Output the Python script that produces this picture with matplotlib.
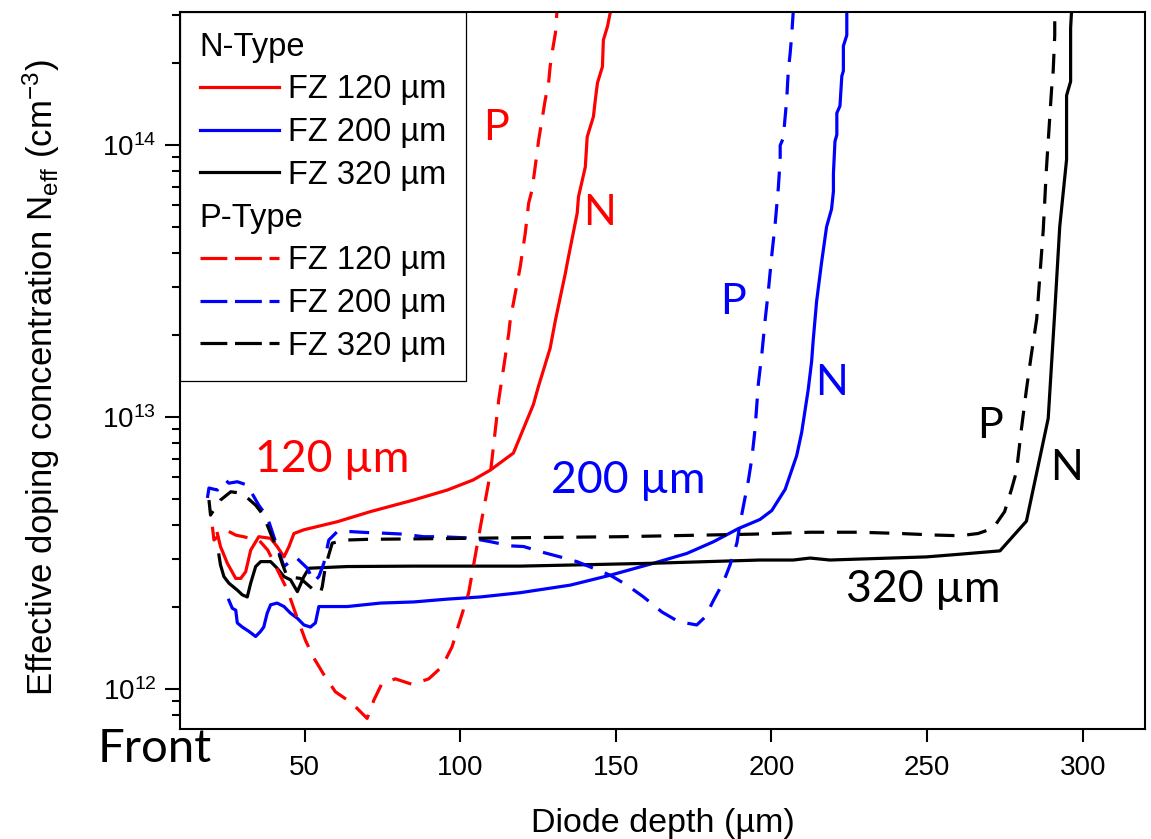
import matplotlib
matplotlib.use("Agg")
import matplotlib.pyplot as plt
from matplotlib.lines import Line2D

plt.rcParams["font.family"] = ["Liberation Sans", "DejaVu Sans"]
plt.rcParams["mathtext.default"] = "regular"

# ---- data (depth in um, Neff in cm^-3) ----
red_n_x = [22.0, 23.0, 25.2, 27.9, 29.5, 31.1, 32.7, 35.3, 39.1, 41.2, 43.4, 45.0, 46.6, 49.8,
           60.5, 71.2, 85.0, 95.9, 104.2, 109.7, 117.1, 123.5, 125.1, 128.9, 130.6, 133.8,
           134.4, 137.6, 138.0, 140.2, 140.8, 142.8, 143.4, 144.1, 145.7, 146.0, 147.3, 148.3]
red_n_y = [3.73e12, 3.34e12, 2.90e12, 2.55e12, 2.55e12, 2.70e12, 3.24e12, 3.63e12, 3.58e12,
           3.34e12, 3.06e12, 3.34e12, 3.73e12, 3.85e12, 4.12e12, 4.49e12, 4.95e12, 5.39e12,
           5.87e12, 6.38e12, 7.37e12, 1.11e13, 1.29e13, 1.79e13, 2.27e13, 3.38e13, 3.68e13,
           5.62e13, 6.44e13, 8.30e13, 1.07e14, 1.27e14, 1.46e14, 1.69e14, 1.94e14, 2.43e14,
           2.72e14, 3.10e14]

red_p_x = [20.4, 20.9, 24.6, 27.9, 35.3, 38.2, 41.3, 44.5, 47.1, 50.3, 53.0, 56.2, 59.9, 65.3,
           70.1, 72.3, 74.9, 79.2, 84.6, 89.9, 94.2, 97.4, 99.0, 102.7, 106.5, 109.7, 110.8,
           112.4, 114.0, 115.6, 116.1, 117.7, 119.3, 120.9, 122.0, 123.1, 124.1, 125.2, 126.3,
           127.3, 128.4, 128.9, 129.5, 130.6, 131.1]
red_p_y = [3.95e12, 3.53e12, 3.85e12, 3.68e12, 3.53e12, 3.24e12, 2.74e12, 2.31e12, 1.90e12,
           1.51e12, 1.30e12, 1.13e12, 9.77e11, 8.86e11, 7.80e11, 9.12e11, 1.05e12, 1.09e12,
           1.04e12, 1.09e12, 1.21e12, 1.43e12, 1.65e12, 2.25e12, 3.95e12, 6.21e12, 8.00e12,
           1.16e13, 1.53e13, 2.03e13, 2.28e13, 2.85e13, 3.57e13, 4.73e13, 6.11e13, 6.84e13,
           8.32e13, 1.04e14, 1.24e14, 1.46e14, 1.69e14, 1.94e14, 2.17e14, 2.58e14, 3.10e14]

blue_n_x = [25.7, 26.8, 27.9, 28.4, 30.0, 32.1, 34.3, 35.9, 36.9, 38.0, 39.1, 41.2, 43.4, 45.5,
            47.7, 49.8, 51.9, 53.5, 54.6, 58.3, 63.7, 74.4, 85.1, 95.8, 106.5, 119.3, 135.4,
            148.2, 162.1, 172.8, 181.4, 189.4, 196.3, 200.1, 204.4, 208.1, 209.7, 211.8, 212.9,
            213.4, 214.5, 216.1, 217.7, 219.3, 219.9, 219.9, 220.4, 221.0, 221.0, 222.0, 222.6,
            223.1, 223.1, 224.2, 224.2]
blue_n_y = [2.12e12, 1.98e12, 1.95e12, 1.75e12, 1.69e12, 1.63e12, 1.56e12, 1.63e12, 1.69e12,
            1.90e12, 2.04e12, 2.07e12, 2.01e12, 1.90e12, 1.82e12, 1.72e12, 1.69e12, 1.75e12,
            2.01e12, 2.01e12, 2.01e12, 2.07e12, 2.09e12, 2.14e12, 2.18e12, 2.26e12, 2.41e12,
            2.62e12, 2.90e12, 3.15e12, 3.48e12, 3.89e12, 4.20e12, 4.53e12, 5.42e12, 7.21e12,
            8.77e12, 1.26e13, 1.60e13, 1.91e13, 2.66e13, 3.70e13, 5.00e13, 5.81e13, 6.75e13,
            7.84e13, 1.03e14, 1.09e14, 1.31e14, 1.39e14, 1.79e14, 1.87e14, 2.31e14, 2.53e14,
            3.10e14]

blue_p_x = [18.8, 19.3, 22.0, 24.6, 25.7, 28.4, 31.6, 35.3, 38.0, 41.2, 43.4, 47.1, 50.9, 53.0,
            54.6, 56.2, 57.8, 60.5, 64.8, 70.1, 75.4, 81.8, 88.2, 93.6, 103.3, 109.7, 116.1,
            120.4, 125.7, 132.1, 137.5, 142.8, 148.2, 153.6, 158.9, 164.8, 170.1, 176.0, 178.7,
            181.4, 184.6, 186.7, 188.9, 189.9, 192.6, 193.7, 194.7, 195.8, 196.9, 198.0, 199.0,
            200.1, 201.2, 202.2, 202.8, 202.8, 203.8, 204.4, 204.9, 205.4, 206.0, 206.5, 207.0]
blue_p_y = [5.04e12, 5.48e12, 5.39e12, 5.86e12, 5.71e12, 5.78e12, 5.62e12, 4.74e12, 4.30e12,
            3.34e12, 2.82e12, 3.06e12, 2.78e12, 2.48e12, 2.59e12, 2.90e12, 3.53e12, 3.79e12,
            3.79e12, 3.76e12, 3.74e12, 3.71e12, 3.63e12, 3.63e12, 3.59e12, 3.48e12, 3.36e12,
            3.34e12, 3.20e12, 3.06e12, 2.94e12, 2.78e12, 2.62e12, 2.41e12, 2.18e12, 1.92e12,
            1.77e12, 1.72e12, 1.84e12, 2.12e12, 2.48e12, 2.86e12, 3.44e12, 4.06e12, 5.86e12,
            7.05e12, 8.96e12, 1.33e13, 1.70e13, 2.29e13, 2.91e13, 3.93e13, 5.15e13, 6.95e13,
            8.83e13, 9.96e13, 1.06e14, 1.27e14, 1.47e14, 1.87e14, 2.17e14, 2.53e14, 3.10e14]

black_n_x = [22.5, 23.0, 24.1, 25.7, 28.4, 30.0, 31.6, 32.7, 34.3, 35.9, 39.1, 41.2, 43.4, 45.5,
             47.7, 49.8, 51.4, 63.7, 85.1, 119.3, 162.1, 196.3, 207.0, 212.4, 218.8, 249.8,
             260.5, 273.4, 281.9, 288.9, 291.0, 292.6, 294.8, 294.8, 296.1, 296.1, 296.4]
black_n_y = [3.11e12, 2.86e12, 2.59e12, 2.45e12, 2.31e12, 2.22e12, 2.18e12, 2.45e12, 2.82e12,
             2.94e12, 2.94e12, 2.78e12, 2.59e12, 2.52e12, 2.28e12, 2.59e12, 2.78e12, 2.82e12,
             2.83e12, 2.83e12, 2.90e12, 2.98e12, 2.98e12, 3.03e12, 2.98e12, 3.06e12, 3.13e12,
             3.22e12, 4.14e12, 9.88e12, 2.43e13, 5.00e13, 8.83e13, 1.52e14, 1.71e14, 2.69e14,
             3.10e14]

black_p_x = [19.3, 19.8, 23.0, 26.3, 30.0, 34.3, 35.9, 38.0, 39.1, 41.2, 42.8, 44.4, 48.7, 53.0,
             55.1, 55.7, 56.7, 58.9, 63.7, 70.1, 80.8, 102.2, 119.3, 151.4, 194.2, 212.4, 228.4,
             241.3, 253.0, 260.5, 266.4, 271.2, 274.9, 277.1, 278.7, 280.3, 281.9, 283.5, 285.2,
             286.2, 287.3, 288.3, 288.9, 290.0, 290.5, 291.0, 291.0]
black_p_y = [4.95e12, 4.36e12, 4.95e12, 5.31e12, 5.24e12, 4.74e12, 4.49e12, 4.01e12, 3.73e12,
             3.29e12, 2.90e12, 2.59e12, 2.55e12, 2.31e12, 2.25e12, 2.38e12, 2.82e12, 3.44e12,
             3.53e12, 3.55e12, 3.56e12, 3.58e12, 3.60e12, 3.63e12, 3.71e12, 3.77e12, 3.77e12,
             3.73e12, 3.68e12, 3.66e12, 3.73e12, 3.90e12, 4.49e12, 5.42e12, 6.30e12, 9.04e12,
             1.26e13, 1.70e13, 2.29e13, 3.28e13, 4.85e13, 8.07e13, 1.03e14, 1.61e14, 1.87e14,
             2.53e14, 3.10e14]

legend_labels = ["N-Type", "FZ 120 \u00b5m", "FZ 200 \u00b5m", "FZ 320 \u00b5m",
                 "P-Type", "FZ 120 \u00b5m", "FZ 200 \u00b5m", "FZ 320 \u00b5m"]
x_ticks = [50, 100, 150, 200, 250, 300]
y_ticks = [1e12, 1e13, 1e14]
y_tick_labels = ["$10^{12}$", "$10^{13}$", "$10^{14}$"]

RED, BLUE, BLACK = "#ff0000", "#0000ff", "#000000"
LW = 2.3
DASH = (6.2, 4.0)
LEG_DASH = (8.4, 2.4)

fig = plt.figure(figsize=(11.51, 8.39), dpi=100)
ax = fig.add_axes([0.1564, 0.1311, 0.8384, 0.8546])

ax.plot(red_n_x, red_n_y, color=RED, lw=LW)
ax.plot(blue_n_x, blue_n_y, color=BLUE, lw=LW)
ax.plot(black_n_x, black_n_y, color=BLACK, lw=LW)
ax.plot(red_p_x, red_p_y, color=RED, lw=LW, dashes=DASH)
ax.plot(blue_p_x, blue_p_y, color=BLUE, lw=LW, dashes=DASH)
ax.plot(black_p_x, black_p_y, color=BLACK, lw=LW, dashes=DASH)

ax.set_yscale("log")
ax.set_xlim(10, 320)
ax.set_ylim(7.13e11, 3.08e14)

ax.set_xticks(x_ticks)
ax.set_xticklabels([str(t) for t in x_ticks])
ax.set_yticks(y_ticks)
ax.set_yticklabels(y_tick_labels)
ax.tick_params(axis="both", which="major", direction="out", width=1.5,
               top=False, right=False, labelsize=20)
ax.tick_params(axis="x", which="major", length=9.5, pad=9)
ax.tick_params(axis="y", which="major", length=11, pad=6)
ax.tick_params(axis="y", which="minor", direction="out", length=6, width=1.5,
               right=False, labelleft=False)
ax.tick_params(axis="x", which="minor", bottom=False, top=False)
for lab in ax.get_xticklabels() + ax.get_yticklabels():
    lab.set_family(["Liberation Sans Narrow", "Liberation Sans"])
for sp in ax.spines.values():
    sp.set_linewidth(1.5)

ax.set_xlabel("Diode depth (\u00b5m)", fontsize=24.5)
ax.xaxis.set_label_coords(0.5, -0.11)
ax.set_ylabel("Effective doping concentration N$_{eff}$ (cm$^{-3}$)", fontsize=25)
ax.yaxis.set_label_coords(-0.122, 0.49)

# legend with group headers
handles = [
    Line2D([], [], color="none"),
    Line2D([], [], color=RED, lw=LW),
    Line2D([], [], color=BLUE, lw=LW),
    Line2D([], [], color=BLACK, lw=LW),
    Line2D([], [], color="none"),
    Line2D([], [], color=RED, lw=LW, dashes=LEG_DASH),
    Line2D([], [], color=BLUE, lw=LW, dashes=LEG_DASH),
    Line2D([], [], color=BLACK, lw=LW, dashes=LEG_DASH),
]
leg = ax.legend(handles, legend_labels, loc="upper left", borderaxespad=0,
                fontsize=23.5, handlelength=2.42, handletextpad=0.28, labelspacing=0.36,
                borderpad=0.6, fancybox=False, framealpha=1, edgecolor="black")
leg.get_frame().set_linewidth(0.9)
for hpack in leg._legend_handle_box.get_children()[0].get_children():
    draw_area, text_area = hpack.get_children()
    if text_area.get_text().endswith("Type"):
        draw_area.set_width(0)
        hpack.sep = 0

# curve annotations
ann = dict(family=["Lato", "DejaVu Sans"], ha="center", va="baseline")
ax.text(59.0, 6.28e12, "120 \u00b5m", color=RED, fontsize=32, **ann)
ax.text(154.0, 5.24e12, "200 \u00b5m", color=BLUE, fontsize=32, **ann)
ax.text(248.8, 2.09e12, "320 \u00b5m", color=BLACK, fontsize=32, **ann)
ax.text(111.6, 1.04e14, "P", color=RED, fontsize=31, **ann)
ax.text(144.7, 5.08e13, "N", color=RED, fontsize=31, **ann)
ax.text(187.8, 2.39e13, "P", color=BLUE, fontsize=31, **ann)
ax.text(219.3, 1.205e13, "N", color=BLUE, fontsize=31, **ann)
ax.text(270.2, 8.37e12, "P", color=BLACK, fontsize=31, **ann)
ax.text(294.8, 5.85e12, "N", color=BLACK, fontsize=31, **ann)
ax.text(-0.026, -0.046, "Front", transform=ax.transAxes, fontsize=34,
        clip_on=False, **ann)

fig.savefig("out.png", dpi=100)
